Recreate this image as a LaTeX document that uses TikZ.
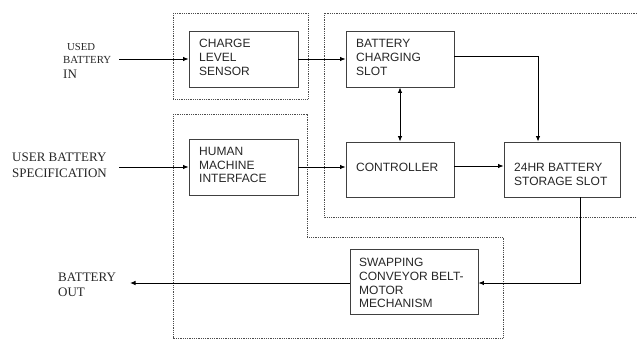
\documentclass[tikz,border=0pt]{standalone}
\usepackage{fontspec}
\setmainfont{Liberation Serif}
\newfontfamily\boxfont{Liberation Sans}
\usetikzlibrary{arrows.meta,calc}
\begin{document}
\begin{tikzpicture}[x=1pt,y=-1pt,
  blk/.style={draw=black!75,line width=0.8pt,rectangle,inner sep=0pt},
  btxt/.style={anchor=west,inner sep=0pt,font=\boxfont\fontsize{12}{14}\selectfont,text=black!85},
  stxt/.style={anchor=west,inner sep=0pt,text=black!85},
  arr/.style={line width=0.95pt,-{Latex[length=5.5pt,width=4.5pt]}},
  dbox/.style={draw=black!70,line width=0.6pt,dash pattern=on 0.9pt off 0.9pt}]
\useasboundingbox (0,0) rectangle (637,339);
% dashed groups
\draw[dbox] (173,13) rectangle (308,99);
\draw[dbox] (173,114) -- (307,114) -- (307,237) -- (503,237) -- (503,338) -- (173,338) -- cycle;
\draw[dbox] (637,13) -- (324,13) -- (324,217) -- (637,217);
% blocks
\node[blk,minimum width=109pt,minimum height=56pt] (cls) at (243.5,59) {};
\node[blk,minimum width=108pt,minimum height=56pt] (bcs) at (400,59) {};
\node[blk,minimum width=109pt,minimum height=56pt] (hmi) at (243.5,167) {};
\node[blk,minimum width=108pt,minimum height=55pt] (ctl) at (400,169.5) {};
\node[blk,minimum width=116pt,minimum height=55pt] (stor) at (562,169.5) {};
\node[blk,minimum width=128pt,minimum height=65pt] (swp) at (414,281.5) {};
% block texts
\node[btxt] (t1a) at (199,43) {CHARGE};
\node[btxt] (t1b) at (199,57) {LEVEL};
\node[btxt] (t1c) at (199,71) {SENSOR};
\node[btxt] (t2a) at (356,43) {BATTERY};
\node[btxt] (t2b) at (356,57) {CHARGING};
\node[btxt] (t2c) at (356,71) {SLOT};
\node[btxt] (t3a) at (199,151) {HUMAN};
\node[btxt] (t3b) at (199,165) {MACHINE};
\node[btxt] (t3c) at (199,178) {INTERFACE};
\node[btxt] (t4a) at (356,167) {CONTROLLER};
\node[btxt] (t5a) at (514,167) {24HR BATTERY};
\node[btxt] (t5b) at (514,181) {STORAGE SLOT};
\node[btxt] (t6a) at (359,262) {SWAPPING};
\node[btxt] (t6b) at (359,276) {CONVEYOR BELT-};
\node[btxt] (t6c) at (359,290) {MOTOR};
\node[btxt] (t6d) at (359,303) {MECHANISM};
% outside labels
\node[stxt,font=\fontsize{10.7}{12}\selectfont] (l1a) at (67,47) {USED};
\node[stxt,font=\fontsize{10.8}{12}\selectfont] (l1b) at (63,60) {BATTERY};
\node[stxt,font=\fontsize{13}{15}\selectfont] (l1c) at (63,74) {IN};
\node[stxt,font=\fontsize{13}{15}\selectfont] (l2a) at (12,157) {USER BATTERY};
\node[stxt,font=\fontsize{13}{15}\selectfont] (l2b) at (12,173) {SPECIFICATION};
\node[stxt,font=\fontsize{13}{15}\selectfont] (l3a) at (58,277) {BATTERY};
\node[stxt,font=\fontsize{13}{15}\selectfont] (l3b) at (58,292) {OUT};
% free ends
\coordinate (in1) at (119,59);
\coordinate (in2) at (119,167);
\coordinate (out) at (130,283);
\coordinate (bend1) at (538,56);
\coordinate (bend2) at (580,283);
% connectors
\draw[arr] (in1) -- (cls.west);
\draw[arr] (cls.east) -- (bcs.west);
\draw[arr] (in2) -- (hmi.west);
\draw[arr] (hmi.east) -- (hmi.east -| ctl.west);
\draw[arr] (ctl.east |- 0,166) -- (stor.west |- 0,166);
\draw[line width=0.95pt,{Latex[length=5.5pt,width=4.5pt]}-{Latex[length=5.5pt,width=4.5pt]}] (bcs.south) -- (ctl.north);
\draw[arr] (bcs.east |- bend1) -- (bend1) -- (bend1 |- stor.north);
\draw[arr] (bend2 |- stor.south) -- (bend2) -- (swp.east |- bend2);
\draw[arr] (swp.west |- out) -- (out);
\end{tikzpicture}
\end{document}
